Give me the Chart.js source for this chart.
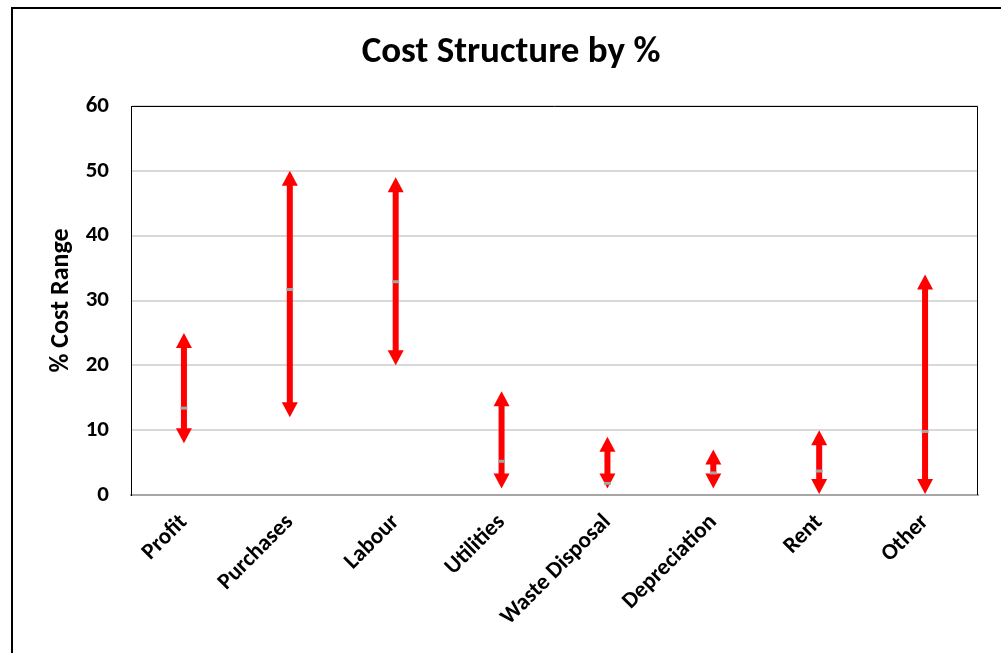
<!DOCTYPE html>
<html lang="en">
<head>
    <meta charset="UTF-8">
    <title>Cost Structure by %</title>
    <script src="https://cdn.jsdelivr.net/npm/chart.js"></script>
    <style>
        html, body { margin: 0; padding: 0; background: #fff; }
        #wrap { width: 1001px; height: 653px; }
    </style>
</head>
<body>
    <div id="wrap"><canvas id="costChart"></canvas></div>
<script>
    // data
    var categories = ['Profit', 'Purchases', 'Labour', 'Utilities', 'Waste Disposal', 'Depreciation', 'Rent', 'Other'];
    var lows = [8, 12, 20, 1, 1, 1, 0, 0];
    var highs = [25, 50, 49, 16, 9, 7, 10, 34];
    var mids = [13.4, 31.7, 32.9, 5.2, 1.8, 3.4, 3.7, 9.8];
    var yTicks = [0, 10, 20, 30, 40, 50, 60];

    var ranges = [];
    for (let i = 0; i < categories.length; i++) {
        ranges.push([lows[i], highs[i]]);
    }

    var fontFam = 'Carlito, Lato, "Open Sans", sans-serif';
    Chart.defaults.font.family = fontFam;
    Chart.defaults.color = '#000';

    // red double arrows drawn from the (hidden) floating bars
    const arrowPlugin = {
        id: 'arrows',
        afterDatasetDraw(chart, args) {
            if (args.index !== 1) return;
            const ctx = chart.ctx;
            const head = 15, half = 8;
            ctx.save();
            ctx.fillStyle = '#ff0000';
            ctx.strokeStyle = '#ff0000';
            ctx.lineWidth = 6;
            args.meta.data.forEach(function (bar) {
                const x = bar.x;
                const top = Math.min(bar.y, bar.base);
                const bot = Math.max(bar.y, bar.base);
                ctx.beginPath();
                ctx.moveTo(x, top + head - 1);
                ctx.lineTo(x, bot - head + 1);
                ctx.stroke();
                ctx.beginPath();
                ctx.moveTo(x, top);
                ctx.lineTo(x - half, top + head);
                ctx.lineTo(x + half, top + head);
                ctx.closePath();
                ctx.fill();
                ctx.beginPath();
                ctx.moveTo(x, bot);
                ctx.lineTo(x - half, bot - head);
                ctx.lineTo(x + half, bot - head);
                ctx.closePath();
                ctx.fill();
            });
            ctx.restore();
        }
    };

    // frame of the plot area and outer chart border
    const framePlugin = {
        id: 'frame',
        beforeDraw(chart) {
            const ctx = chart.ctx;
            ctx.save();
            ctx.fillStyle = '#fff';
            ctx.fillRect(0, 0, chart.width, chart.height);
            ctx.restore();
        },
        beforeDatasetsDraw(chart) {
            const ctx = chart.ctx;
            const a = chart.chartArea;
            ctx.save();
            ctx.strokeStyle = '#000';
            ctx.lineWidth = 1;
            ctx.beginPath();
            ctx.moveTo(a.left + 0.5, a.bottom);
            ctx.lineTo(a.left + 0.5, a.top + 0.5);
            ctx.lineTo(a.right - 0.5, a.top + 0.5);
            ctx.lineTo(a.right - 0.5, a.bottom);
            ctx.stroke();
            ctx.restore();
        },
        afterDraw(chart) {
            const ctx = chart.ctx;
            ctx.save();
            ctx.strokeStyle = '#000';
            ctx.lineWidth = 2;
            ctx.beginPath();
            ctx.moveTo(12, chart.height);
            ctx.lineTo(12, 8);
            ctx.lineTo(chart.width, 8);
            ctx.stroke();
            ctx.restore();
        }
    };

    const ctxCost = document.getElementById('costChart');

    new Chart(ctxCost, {
        type: 'bar',
        data: {
            labels: categories,
            datasets: [{
                type: 'line',
                label: 'Mid',
                data: mids,
                showLine: false,
                pointStyle: 'line',
                pointRadius: 3.5,
                pointBorderWidth: 3,
                pointBorderColor: '#a5a5a5',
                pointBackgroundColor: '#a5a5a5'
            }, {
                type: 'bar',
                label: 'Range',
                data: ranges,
                backgroundColor: 'rgba(0,0,0,0)',
                borderWidth: 0,
                barThickness: 6
            }]
        },
        plugins: [framePlugin, arrowPlugin],
        options: {
            responsive: true,
            maintainAspectRatio: false,
            animation: false,
            layout: {
                padding: { left: 44, right: 23, top: 0, bottom: 0 }
            },
            plugins: {
                legend: { display: false },
                tooltip: { enabled: false },
                title: {
                    display: true,
                    text: 'Cost Structure by %',
                    color: '#000',
                    font: { size: 37, weight: 'bold' },
                    padding: { top: 30.5, bottom: 31.1 }
                }
            },
            scales: {
                x: {
                    grid: { display: false },
                    border: { color: '#a6a6a6', width: 2 },
                    ticks: {
                        maxRotation: 45,
                        minRotation: 45,
                        padding: 6,
                        font: { size: 23, weight: 'bold' },
                        color: '#000'
                    },
                    afterFit(scale) { scale.height = 158; }
                },
                y: {
                    min: 0,
                    max: 60,
                    afterBuildTicks(scale) {
                        scale.ticks = yTicks.map(v => ({ value: v }));
                    },
                    grid: { color: '#d9d9d9', lineWidth: 2, drawTicks: false },
                    border: { color: '#000', width: 1 },
                    ticks: {
                        padding: 22,
                        font: { size: 23, weight: 'bold' },
                        color: '#000'
                    },
                    title: {
                        display: true,
                        text: '% Cost Range',
                        color: '#000',
                        font: { size: 26, weight: 'bold' },
                        padding: { top: 2, bottom: 0 }
                    },
                    afterFit(scale) { scale.width = 87; }
                }
            }
        }
    });
</script>
</body>
</html>
